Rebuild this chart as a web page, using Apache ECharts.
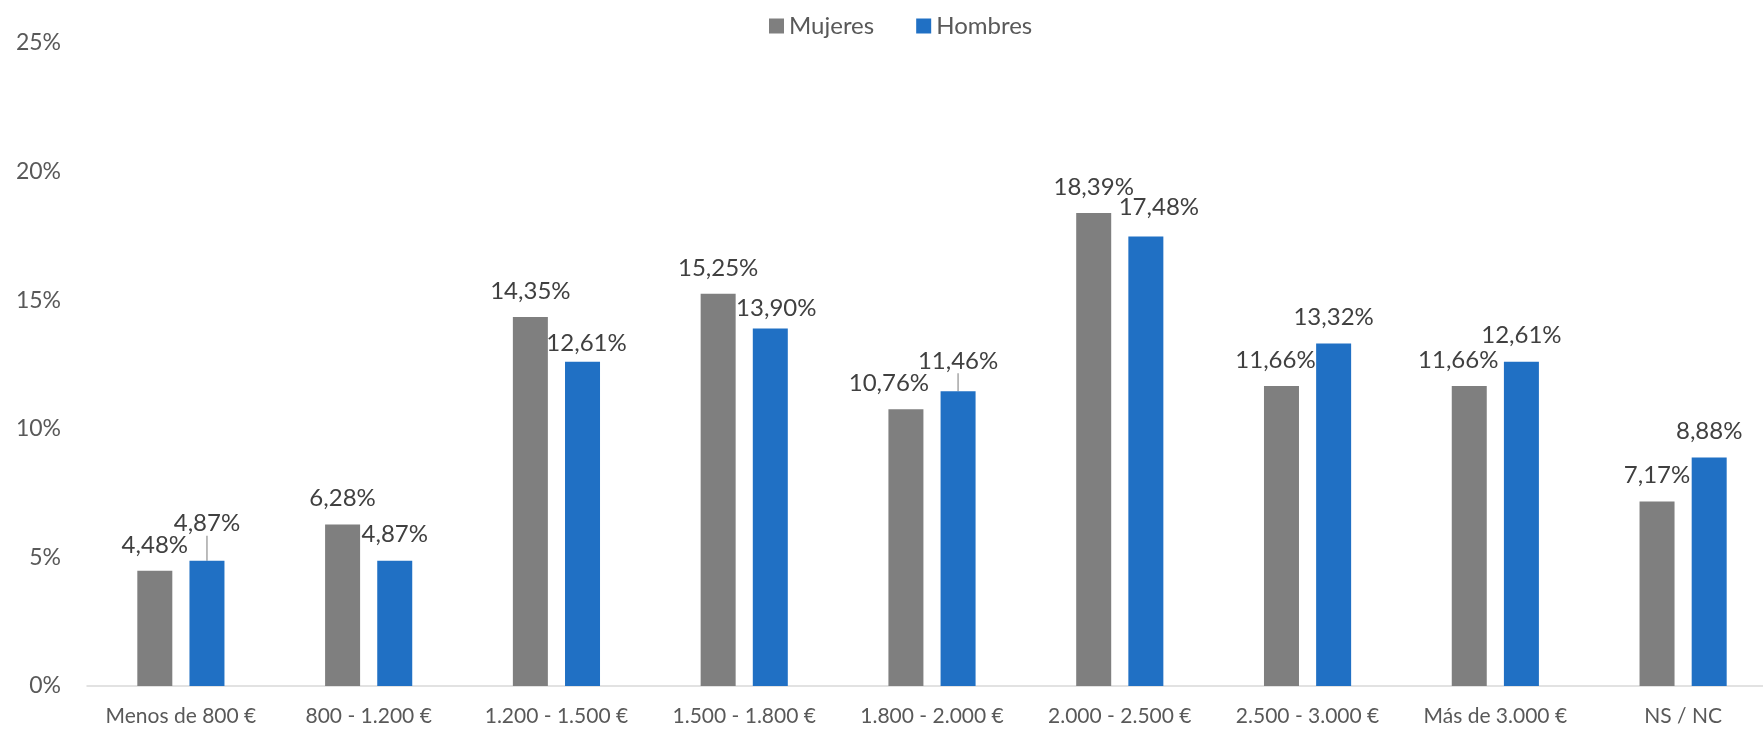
<!DOCTYPE html>
<html>
<head>
<meta charset="utf-8">
<script src="https://cdn.jsdelivr.net/npm/echarts@6/dist/echarts.min.js"></script>
<style>
  html, body { margin: 0; padding: 0; background: #fff; overflow: hidden; }
  #chart { width: 1763px; height: 730px; }
</style>
</head>
<body>
<div id="chart"></div>
<script>
const categories = [
  'Menos de 800 €', '800 - 1.200 €', '1.200 - 1.500 €', '1.500 - 1.800 €',
  '1.800 - 2.000 €', '2.000 - 2.500 €', '2.500 - 3.000 €', 'Más de 3.000 €', 'NS / NC'
];
const mujeres = [4.48, 6.28, 14.35, 15.25, 10.76, 18.39, 11.66, 11.66, 7.17];
const hombres = [4.87, 4.87, 12.61, 13.90, 11.46, 17.48, 13.32, 12.61, 8.88];

// label nudges, like the spreadsheet moved them to avoid overlaps
const nudgeMujeres = [[0, 0], [0, 0], [0, 0], [0, 0], [-17, 0], [0, 0], [-6, 0], [-11, 0], [0, 0]];
const nudgeHombres = [[0, -11], [0, 0], [4, 8], [6, 6], [0, -4], [13, -3], [0, 0], [0, 0], [0, 0]];
const leaderHombres = [0, 4];

const fmt = (v) => v.toFixed(2).replace('.', ',') + '%';

let chartDom = document.getElementById('chart');
let myChart = echarts.init(chartDom);
let option;

const labelStyle = {
  show: true,
  position: 'top',
  distance: 14,
  fontFamily: 'Lato',
  fontSize: 24,
  color: '#404040',
  formatter: (p) => fmt(p.value)
};

option = {
  animation: false,
  textStyle: { fontFamily: 'Lato' },
  legend: {
    left: 764,
    top: 9,
    itemWidth: 15,
    itemHeight: 15,
    itemGap: 42,
    icon: 'rect',
    textStyle: { fontSize: 24, color: '#595959' },
    data: ['Mujeres', 'Hombres']
  },
  grid: { left: 87, right: -14, top: 43, bottom: 44, outerBoundsMode: 'none' },
  xAxis: {
    type: 'category',
    data: categories,
    axisTick: { show: false },
    axisLine: { lineStyle: { color: '#d9d9d9', width: 1.5 } },
    axisLabel: { fontSize: 21, color: '#595959', margin: 20, interval: 0 }
  },
  yAxis: {
    type: 'value',
    min: 0,
    max: 25,
    interval: 5,
    splitLine: { show: false },
    axisLine: { show: false },
    axisTick: { show: false },
    axisLabel: { fontSize: 23, color: '#595959', margin: 26, formatter: '{value}%' }
  },
  series: [
    {
      name: 'Mujeres',
      type: 'bar',
      barWidth: 35,
      barGap: '49%',
      itemStyle: { color: '#7f7f7f' },
      label: labelStyle,
      labelLayout: (p) => ({ dx: nudgeMujeres[p.dataIndex][0], dy: nudgeMujeres[p.dataIndex][1] }),
      data: mujeres
    },
    {
      name: 'Hombres',
      type: 'bar',
      barWidth: 35,
      itemStyle: { color: '#2070c4' },
      label: labelStyle,
      labelLayout: (p) => ({ dx: nudgeHombres[p.dataIndex][0], dy: nudgeHombres[p.dataIndex][1] }),
      labelLine: { show: false, lineStyle: { color: '#a6a6a6', width: 1.5 } },
      data: hombres.map((v, i) => ({
        value: v,
        labelLine: { show: leaderHombres.includes(i) }
      }))
    }
  ]
};
option && myChart.setOption(option);
</script>
</body>
</html>
